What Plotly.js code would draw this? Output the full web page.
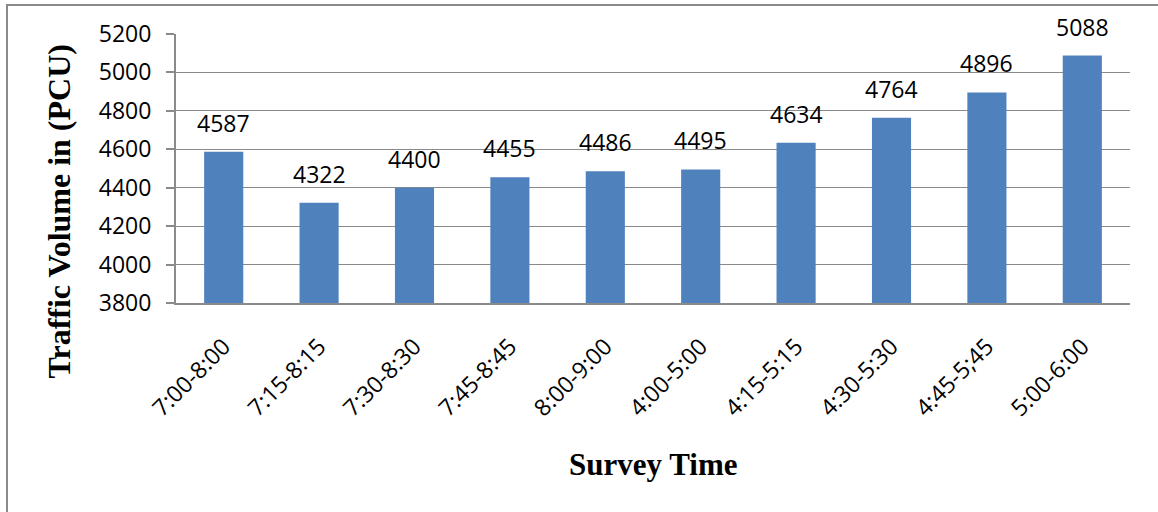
<!DOCTYPE html>
<html>
<head>
<meta charset="utf-8">
<script src="https://cdn.plot.ly/plotly-3.0.1.min.js"></script>
<style>
  html, body { margin: 0; padding: 0; background: #fff; }
  #wrap { position: relative; width: 1158px; height: 512px; overflow: hidden; }
  #chart { position: absolute; left: 0; top: 0; width: 1158px; height: 512px; }
  #frame { position: absolute; left: 6px; top: 4px; width: 1200px; height: 600px;
           border: 2px solid #8a8a8a; pointer-events: none; box-sizing: border-box; }
</style>
</head>
<body>
<div id="wrap">
  <div id="chart"></div>
  <div id="frame"></div>
</div>
<script>
const surveyTimes = ["7:00-8:00", "7:15-8:15", "7:30-8:30", "7:45-8:45", "8:00-9:00",
                     "4:00-5:00", "4:15-5:15", "4:30-5:30", "4:45-5;45", "5:00-6:00"];
const trafficVolume = [4587, 4322, 4400, 4455, 4486, 4495, 4634, 4764, 4896, 5088];
const yTickValues = [3800, 4000, 4200, 4400, 4600, 4800, 5000, 5200];

const labelFont = { family: "Open Sans, sans-serif", size: 23, color: "#000" };
const yTickFont = { family: "Open Sans, sans-serif", size: 23, color: "#000" };
const xTickFont = { family: "Open Sans, sans-serif", size: 23, color: "#000" };
const xTitleFont = { family: "Liberation Serif, Times New Roman, serif", size: 31, color: "#000", weight: "bold" };
const yTitleFont = { family: "Liberation Serif, Times New Roman, serif", size: 32, color: "#000", weight: "bold" };

const trace = {
  type: "bar",
  x: surveyTimes,
  y: trafficVolume,
  marker: { color: "#4F81BD" },
  width: 0.41,
  hoverinfo: "none"
};

const annotations = surveyTimes.map((c, i) => ({
  x: c, y: trafficVolume[i], xref: "x", yref: "y",
  text: String(trafficVolume[i]), showarrow: false,
  yanchor: "bottom", yshift: 11, font: labelFont
}));

annotations.push({
  xref: "paper", yref: "paper", x: 0.5, y: -0.6,
  text: "<b>Survey Time</b>", showarrow: false,
  xanchor: "center", yanchor: "middle", font: xTitleFont
});
annotations.push({
  xref: "paper", yref: "paper", xshift: -117, x: 0, y: 0.34,
  text: "<b>Traffic Volume in (PCU)</b>", showarrow: false, textangle: -90,
  xanchor: "center", yanchor: "middle", font: yTitleFont
});

const layout = {
  width: 1158, height: 512,
  margin: { l: 176, r: 28, t: 34, b: 209 },
  paper_bgcolor: "rgba(0,0,0,0)",
  plot_bgcolor: "#fff",
  showlegend: false,
  bargap: 0.59,
  xaxis: {
    type: "category",
    tickangle: -45,
    tickfont: xTickFont,
    showgrid: false,
    showline: true, linecolor: "#8a8a8a", linewidth: 2,
    ticks: "", ticklabelstandoff: 19,
    fixedrange: true
  },
  yaxis: {
    range: [3800, 5200],
    tickvals: yTickValues,
    ticktext: yTickValues.map(String),
    tickfont: yTickFont,
    showgrid: true, gridcolor: "#8a8a8a", gridwidth: 1,
    showline: true, linecolor: "#8a8a8a", linewidth: 2,
    ticks: "outside", ticklen: 8, tickcolor: "#8a8a8a", tickwidth: 2,
    ticklabelstandoff: 10,
    zeroline: false,
    fixedrange: true
  },
  annotations: annotations
};

Plotly.newPlot("chart", [trace], layout, { displayModeBar: false, staticPlot: true });
</script>
</body>
</html>
